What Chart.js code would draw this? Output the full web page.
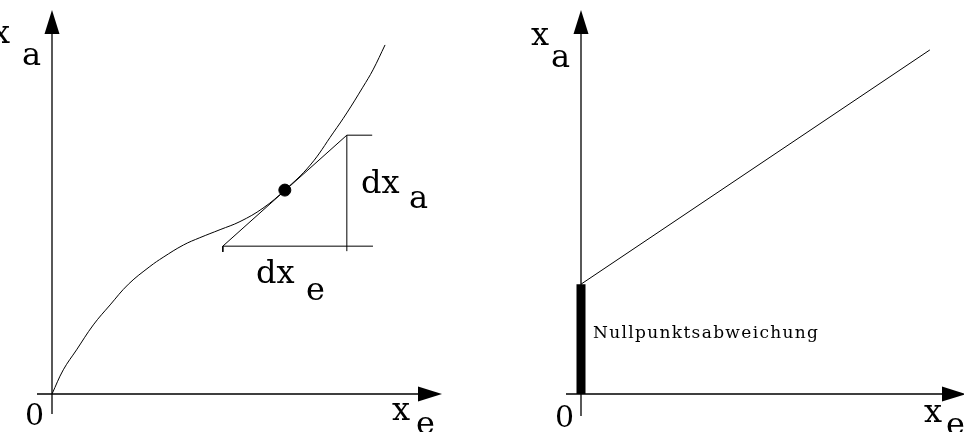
<!DOCTYPE html>
<html>
<head>
<meta charset="utf-8">
<script src="https://cdn.jsdelivr.net/npm/chart.js@4.4.1/dist/chart.umd.min.js"></script>
<style>
  html, body { margin: 0; padding: 0; background: #fff; overflow: hidden; }
  .panel { position: absolute; top: 0; width: 482px; height: 432px; }
</style>
</head>
<body>
<div class="panel" style="left:0"><canvas id="left" width="482" height="432"></canvas></div>
<div class="panel" style="left:482px"><canvas id="right" width="482" height="432"></canvas></div>
<script>
// left: nonlinear characteristic x_a(x_e), axis units 0..100
const curveXe = [0, 2.9, 6.3, 10.6, 14.9, 19.6, 25.1, 28.5, 33.7, 37.9, 43.1, 48.2, 54.1, 59.7, 66.2, 72.1, 75.6, 79.7, 82.3, 85.4];
const curveXa = [0, 6.3, 11.5, 18.0, 23.2, 28.6, 33.2, 35.6, 38.8, 40.7, 42.8, 44.9, 48.4, 53.1, 59.6, 68.0, 73.2, 79.9, 84.4, 90.9];

// tangent in the working point
const tangentXe = [43.8, 75.6];
const tangentXa = [38.5, 67.4];
const pointXe = [59.7];
const pointXa = [53.1];

// slope triangle dx_e / dx_a
const dxeXe = [43.8, 82.3];
const dxeXa = [38.5, 38.5];
const dxaXe = [75.6, 75.6];
const dxaXa = [37.2, 67.4];
const topTickXe = [75.6, 82.1];
const topTickXa = [67.4, 67.4];
const leftTickXe = [43.8, 43.8];
const leftTickXa = [38.5, 37.0];

// right: linear characteristic with zero offset
const lineXe = [0, 91.8];
const lineXa = [28.6, 89.6];
const offsetXe = [0, 0];
const offsetXa = [0, 28.6];

function pts(xs, ys) {
  return xs.map((v, i) => ({ x: v, y: ys[i] }));
}

function lineSet(xs, ys, width, tension) {
  return {
    data: pts(xs, ys),
    showLine: true,
    borderColor: '#000',
    borderWidth: width || 1,
    pointRadius: 0,
    tension: tension || 0,
    borderCapStyle: 'butt',
    clip: false
  };
}

const FONT = '"DejaVu Serif", "Liberation Serif", serif';

// axes with arrow heads, drawn from the scale positions
const axesPlugin = {
  id: 'axes',
  beforeDatasetsDraw(chart, args, opts) {
    const { ctx, chartArea: a, scales: { x, y } } = chart;
    const ox = x.getPixelForValue(0);
    const oy = y.getPixelForValue(0);
    const tipX = a.right + opts.tipOver;
    const tipY = a.top;
    ctx.save();
    ctx.strokeStyle = '#000';
    ctx.fillStyle = '#000';
    ctx.lineWidth = 1.3;
    ctx.beginPath();
    ctx.moveTo(ox, oy + opts.below);
    ctx.lineTo(ox, tipY + 20);
    ctx.moveTo(ox - 15, oy);
    ctx.lineTo(tipX - 20, oy);
    ctx.stroke();
    ctx.beginPath();
    ctx.moveTo(ox, tipY);
    ctx.lineTo(ox - 7.5, tipY + 24);
    ctx.lineTo(ox + 7.5, tipY + 24);
    ctx.closePath();
    ctx.fill();
    ctx.beginPath();
    ctx.moveTo(tipX, oy);
    ctx.lineTo(tipX - 24, oy - 7.5);
    ctx.lineTo(tipX - 24, oy + 7.5);
    ctx.closePath();
    ctx.fill();
    ctx.restore();
  }
};

function spacedText(ctx, text, x, y, width) {
  const w = ctx.measureText(text).width;
  const gap = (width - w) / (text.length - 1);
  let cx = x;
  for (const ch of text) {
    ctx.fillText(ch, cx, y);
    cx += ctx.measureText(ch).width + gap;
  }
}

const labelPlugin = {
  id: 'labels',
  afterDraw(chart, args, opts) {
    const ctx = chart.ctx;
    ctx.save();
    ctx.fillStyle = '#000';
    ctx.textBaseline = 'alphabetic';
    ctx.textAlign = 'left';
    for (const l of opts.items) {
      ctx.font = l.size + 'px ' + FONT;
      if (l.width) spacedText(ctx, l.text, l.x, l.y, l.width);
      else ctx.fillText(l.text, l.x, l.y);
    }
    ctx.restore();
  }
};

function makeOptions(padding, tipOver, below, items) {
  return {
    animation: false,
    responsive: false,
    devicePixelRatio: 1,
    layout: { padding: padding },
    scales: {
      x: { type: 'linear', min: 0, max: 100, display: false },
      y: { type: 'linear', min: 0, max: 100, display: false }
    },
    plugins: {
      legend: { display: false },
      tooltip: { enabled: false },
      axes: { tipOver: tipOver, below: below },
      labels: { items: items }
    }
  };
}

new Chart(document.getElementById('left'), {
  type: 'scatter',
  data: {
    datasets: [
      lineSet(curveXe, curveXa, 1, 0.4),
      lineSet(tangentXe, tangentXa),
      lineSet(dxeXe, dxeXa),
      lineSet(dxaXe, dxaXa),
      lineSet(topTickXe, topTickXa),
      lineSet(leftTickXe, leftTickXa),
      { data: pts(pointXe, pointXa), pointRadius: 6, backgroundColor: '#000', borderColor: '#000' }
    ]
  },
  options: makeOptions({ left: 52, right: 40, top: 10, bottom: 38 }, 0, 20, [
    { text: 'x', x: -8, y: 43, size: 32 },
    { text: 'a', x: 22, y: 65, size: 32 },
    { text: 'dx', x: 361, y: 193, size: 32 },
    { text: 'a', x: 409, y: 208, size: 32 },
    { text: 'dx', x: 256, y: 283, size: 32 },
    { text: 'e', x: 306, y: 300, size: 32 },
    { text: '0', x: 25, y: 425, size: 30 },
    { text: 'x', x: 392, y: 420, size: 32 },
    { text: 'e', x: 416, y: 434, size: 32 }
  ]),
  plugins: [axesPlugin, labelPlugin]
});

new Chart(document.getElementById('right'), {
  type: 'scatter',
  data: {
    datasets: [
      lineSet(lineXe, lineXa),
      lineSet(offsetXe, offsetXa, 9)
    ]
  },
  options: makeOptions({ left: 99, right: 3, top: 10, bottom: 38 }, 5, 22, [
    { text: 'x', x: 49, y: 45, size: 32 },
    { text: 'a', x: 69, y: 67, size: 32 },
    { text: '0', x: 73, y: 427, size: 30 },
    { text: 'x', x: 442, y: 422, size: 32 },
    { text: 'e', x: 464, y: 435, size: 32 },
    { text: 'Nullpunktsabweichung', x: 111, y: 338, size: 17, width: 225 }
  ]),
  plugins: [axesPlugin, labelPlugin]
});
</script>
</body>
</html>
